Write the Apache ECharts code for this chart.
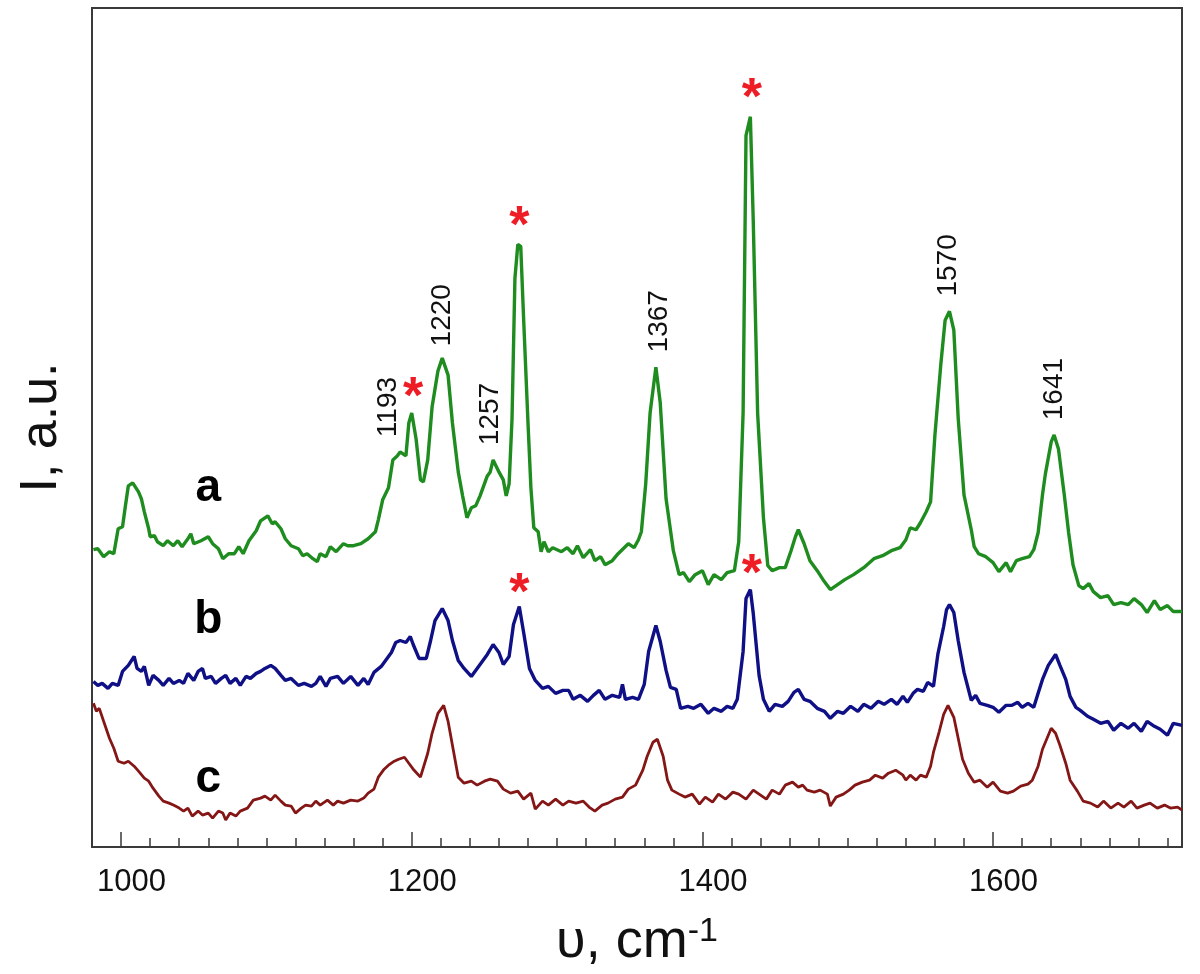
<!DOCTYPE html>
<html>
<head>
<meta charset="utf-8">
<script src="https://cdn.jsdelivr.net/npm/echarts@6/dist/echarts.min.js"></script>
<style>
html,body{margin:0;padding:0;background:#fff;}
#chart{width:1200px;height:974px;}
</style>
</head>
<body>
<div id="chart"></div>
<script>
// Raman spectra: [wavenumber (cm-1), intensity (a.u., offset traces)]
const seriesA = [[981,298],[984,299],[988,291],[992,296],[995,294],[998,319],[1001,321],[1003,342],[1005,362],[1008,365],[1012,356],[1014,349],[1016,336],[1019,319],[1020,311],[1023,312],[1025,306],[1029,302],[1032,307],[1036,302],[1039,307],[1042,301],[1046,309],[1048,314],[1050,304],[1055,307],[1060,311],[1063,304],[1067,299],[1070,289],[1074,294],[1078,294],[1081,301],[1084,294],[1088,307],[1093,317],[1096,327],[1101,332],[1104,324],[1106,326],[1110,319],[1113,309],[1117,302],[1122,299],[1125,292],[1128,294],[1132,289],[1135,286],[1137,294],[1141,291],[1144,301],[1148,296],[1153,304],[1156,302],[1160,302],[1165,304],[1170,309],[1175,316],[1177,328],[1180,348],[1184,360],[1187,388],[1190,392],[1192,396],[1196,392],[1198,425],[1200,435],[1203,409],[1206,368],[1208,366],[1211,388],[1214,441],[1218,477],[1221,490],[1225,473],[1228,425],[1232,376],[1235,352],[1238,330],[1241,340],[1244,342],[1247,352],[1252,372],[1254,376],[1256,388],[1260,376],[1263,368],[1265,352],[1267,364],[1269,429],[1271,570],[1273,604],[1275,602],[1277,529],[1280,425],[1282,360],[1284,320],[1287,316],[1289,296],[1291,306],[1294,296],[1297,300],[1303,296],[1307,300],[1311,294],[1314,302],[1318,290],[1323,298],[1326,287],[1330,291],[1333,283],[1338,287],[1342,294],[1349,304],[1353,300],[1356,308],[1358,316],[1361,364],[1364,435],[1368,481],[1371,445],[1375,349],[1380,297],[1384,273],[1387,275],[1391,266],[1395,273],[1400,277],[1404,263],[1408,273],[1413,268],[1417,275],[1422,277],[1425,306],[1428,435],[1430,713],[1433,732],[1435,627],[1438,435],[1442,330],[1445,282],[1448,277],[1453,280],[1457,280],[1461,297],[1464,311],[1466,318],[1470,304],[1474,287],[1479,277],[1483,268],[1488,258],[1493,263],[1498,268],[1504,273],[1511,280],[1518,289],[1524,292],[1530,297],[1536,300],[1540,308],[1543,320],[1547,318],[1550,325],[1554,336],[1557,346],[1560,413],[1564,483],[1567,528],[1570,537],[1573,518],[1576,430],[1580,353],[1585,318],[1587,301],[1590,294],[1595,291],[1600,285],[1604,276],[1609,285],[1612,276],[1616,287],[1620,289],[1625,291],[1628,298],[1631,315],[1634,353],[1636,374],[1640,406],[1642,413],[1645,399],[1649,353],[1652,315],[1655,283],[1659,262],[1662,259],[1666,264],[1669,256],[1674,250],[1679,252],[1683,243],[1688,245],[1693,243],[1697,249],[1702,243],[1706,235],[1711,247],[1715,238],[1720,242],[1724,236],[1730,236]];

const seriesB = [[981,166],[984,162],[987,164],[991,159],[994,164],[998,162],[1001,176],[1005,182],[1009,191],[1011,179],[1014,176],[1016,181],[1019,162],[1022,172],[1026,167],[1029,162],[1033,169],[1036,164],[1040,167],[1043,164],[1046,174],[1050,167],[1053,176],[1056,179],[1058,169],[1062,171],[1065,164],[1069,169],[1072,172],[1075,164],[1079,169],[1082,162],[1086,171],[1089,169],[1093,174],[1096,176],[1099,179],[1103,182],[1106,179],[1110,172],[1113,167],[1117,169],[1122,162],[1126,164],[1131,161],[1134,164],[1137,171],[1141,161],[1144,169],[1149,171],[1153,164],[1158,171],[1163,162],[1167,169],[1170,163],[1174,175],[1179,181],[1182,187],[1186,195],[1189,205],[1192,207],[1196,205],[1199,211],[1201,203],[1205,189],[1210,189],[1213,207],[1216,227],[1221,239],[1225,227],[1228,207],[1232,187],[1236,179],[1241,171],[1244,177],[1247,183],[1252,193],[1256,203],[1260,195],[1263,183],[1267,191],[1270,223],[1274,241],[1277,215],[1281,179],[1285,167],[1290,159],[1294,161],[1299,154],[1304,157],[1308,157],[1311,148],[1316,152],[1321,146],[1325,152],[1329,157],[1333,148],[1338,152],[1343,150],[1345,163],[1347,148],[1352,150],[1356,148],[1360,163],[1363,196],[1368,222],[1371,206],[1375,177],[1378,160],[1382,158],[1385,139],[1390,141],[1394,139],[1399,143],[1404,134],[1408,139],[1413,136],[1417,141],[1421,139],[1424,148],[1428,196],[1430,249],[1433,258],[1435,234],[1439,172],[1442,148],[1446,136],[1450,143],[1455,141],[1459,146],[1463,155],[1466,158],[1470,148],[1474,146],[1479,139],[1484,136],[1488,129],[1493,136],[1497,134],[1502,141],[1507,136],[1511,143],[1516,139],[1521,146],[1525,143],[1530,148],[1534,143],[1538,151],[1541,145],[1545,154],[1548,158],[1552,156],[1555,165],[1559,161],[1562,193],[1566,221],[1568,238],[1570,243],[1573,235],[1576,207],[1580,175],[1585,147],[1588,152],[1591,144],[1596,142],[1600,140],[1604,135],[1609,142],[1613,142],[1617,145],[1620,140],[1624,144],[1628,140],[1631,154],[1634,168],[1638,182],[1643,193],[1646,182],[1650,168],[1653,151],[1657,140],[1660,137],[1665,131],[1669,128],[1674,124],[1679,126],[1683,117],[1688,124],[1693,119],[1697,124],[1702,116],[1706,126],[1711,121],[1715,118],[1720,112],[1724,124],[1730,122]];

const seriesC = [[981,144],[983,136],[985,139],[988,126],[992,109],[995,99],[998,86],[1002,84],[1005,86],[1009,81],[1012,76],[1016,69],[1019,66],[1022,59],[1026,51],[1029,46],[1033,44],[1036,42],[1040,39],[1043,36],[1046,39],[1049,31],[1053,36],[1056,32],[1060,34],[1063,29],[1067,36],[1070,34],[1072,27],[1075,34],[1079,31],[1082,36],[1087,39],[1091,47],[1096,49],[1099,51],[1103,47],[1106,52],[1110,46],[1113,42],[1117,41],[1120,34],[1124,39],[1127,42],[1131,41],[1134,46],[1137,42],[1142,47],[1146,42],[1149,46],[1153,44],[1158,47],[1163,46],[1167,49],[1170,54],[1174,58],[1177,70],[1181,78],[1184,82],[1188,86],[1191,88],[1195,90],[1198,84],[1201,78],[1206,70],[1211,94],[1214,114],[1218,134],[1222,142],[1225,126],[1229,94],[1232,70],[1236,64],[1241,66],[1245,62],[1250,66],[1254,68],[1259,66],[1263,58],[1268,54],[1273,56],[1277,48],[1282,54],[1285,38],[1290,46],[1294,42],[1299,48],[1304,42],[1308,46],[1313,44],[1318,46],[1322,40],[1326,36],[1331,42],[1335,44],[1340,48],[1345,50],[1349,58],[1354,62],[1359,77],[1362,91],[1366,105],[1369,108],[1373,91],[1376,67],[1379,57],[1384,53],[1388,50],[1393,53],[1398,43],[1402,50],[1407,45],[1411,53],[1416,48],[1421,55],[1425,53],[1430,48],[1435,57],[1439,53],[1444,48],[1448,57],[1453,53],[1457,62],[1462,65],[1466,60],[1469,62],[1472,57],[1477,55],[1481,57],[1486,53],[1488,41],[1492,50],[1497,53],[1501,57],[1505,62],[1510,65],[1515,67],[1519,72],[1524,69],[1528,74],[1533,77],[1538,72],[1540,67],[1543,72],[1547,67],[1550,72],[1554,70],[1557,81],[1559,95],[1563,116],[1566,133],[1569,142],[1573,130],[1576,109],[1579,88],[1583,74],[1587,65],[1591,67],[1596,60],[1600,65],[1605,56],[1610,54],[1614,56],[1619,61],[1624,63],[1627,67],[1631,81],[1634,98],[1638,112],[1640,119],[1643,114],[1646,102],[1650,84],[1653,67],[1658,56],[1662,46],[1667,44],[1672,40],[1676,46],[1681,39],[1686,44],[1690,40],[1695,46],[1699,39],[1704,42],[1708,44],[1713,39],[1718,42],[1722,39],[1727,40],[1730,37]];

// annotations
const peakLabels = ['1193','1220','1257','1367','1570','1641'];
const peakLabelX = [1184,1221,1254,1370,1569,1642];
const peakLabelY = [441,533,434,527,583,459];
const starX = [1201,1274,1434,1274,1434];
const starY = [449,621,749,253,272];
const traceNames = ['a','b','c'];
const traceNameX = [1060,1060,1060];
const traceNameY = [360,227,68];
const majorTicks = [1000,1200,1400,1600];

const FONT = '"Liberation Sans", Arial, sans-serif';
const chart = echarts.init(document.getElementById('chart'), null, {renderer:'canvas'});

const textSeries = (xs, ys, texts, labelOpt) => ({
  type:'scatter', xAxisIndex:0, yAxisIndex:0, symbolSize:1, silent:true,
  itemStyle:{color:'rgba(0,0,0,0)', opacity:1}, z:10,
  data: xs.map((x,i)=>({value:[x, ys[i]], name:texts[i]})),
  label: Object.assign({show:true, position:'inside', formatter:'{b}', fontFamily:FONT, opacity:1}, labelOpt),
  labelLayout:{hideOverlap:false}
});

chart.setOption({
  animation:false,
  backgroundColor:'#fff',
  grid:{left:92, right:18, top:8, bottom:125, show:true, borderColor:'#3a3a3a', borderWidth:2, backgroundColor:'transparent'},
  xAxis:[
    {type:'value', min:980, max:1730, interval:20, position:'bottom',
     axisLine:{show:true, lineStyle:{color:'#3a3a3a', width:2}},
     axisTick:{show:true, inside:true, length:9, lineStyle:{color:'#3a3a3a', width:1.5}},
     axisLabel:{show:false}, splitLine:{show:false}},
    {type:'value', min:980, max:1730, position:'bottom',
     axisLine:{show:false},
     axisTick:{show:true, inside:true, length:15, customValues:majorTicks, lineStyle:{color:'#3a3a3a', width:1.5}},
     axisLabel:{show:true, customValues:majorTicks, formatter:(v)=>String(v), fontSize:31, color:'#111', fontFamily:FONT, margin:20, padding:[0,0,0,21]},
     splitLine:{show:false},
     name:'{m|υ, cm}{s|-1}', nameLocation:'middle', nameGap:68,
     nameTextStyle:{fontFamily:FONT, color:'#111', rich:{
       m:{fontSize:54, fontFamily:FONT, color:'#111', verticalAlign:'bottom'},
       s:{fontSize:34, fontFamily:FONT, color:'#111', verticalAlign:'top'}
     }}}
  ],
  yAxis:{type:'value', min:0, max:841, axisLine:{show:false}, axisTick:{show:false}, axisLabel:{show:false}, splitLine:{show:false},
    name:'I, a.u.', nameLocation:'middle', nameGap:24, nameRotate:90,
    nameTextStyle:{fontSize:52, fontFamily:FONT, color:'#111'}},
  series:[
    {type:'line', name:'a', data:seriesA, showSymbol:false, lineStyle:{color:'#1e8c1e', width:3.4}, itemStyle:{color:'#1e8c1e'}, z:3},
    {type:'line', name:'b', data:seriesB, showSymbol:false, lineStyle:{color:'#0f0f86', width:3.4}, itemStyle:{color:'#0f0f86'}, z:3},
    {type:'line', name:'c', data:seriesC, showSymbol:false, lineStyle:{color:'#841616', width:2.8}, itemStyle:{color:'#841616'}, z:3},
    textSeries(peakLabelX, peakLabelY, peakLabels, {rotate:90, fontSize:28, color:'#111'}),
    textSeries(starX, starY, starX.map(()=>'*'), {fontSize:52, fontWeight:'bold', color:'#ee1c24'}),
    textSeries(traceNameX, traceNameY, traceNames, {fontSize:46, fontWeight:'bold', color:'#000'})
  ]
});
</script>
</body>
</html>
